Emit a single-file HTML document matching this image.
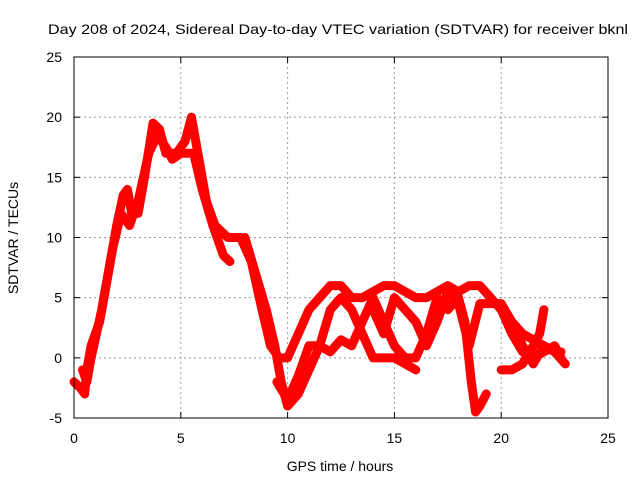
<!DOCTYPE html>
<html><head><meta charset="utf-8"><style>
body{margin:0;background:#fff;font-family:"Liberation Sans",sans-serif}
svg text{font-family:"Liberation Sans",sans-serif;font-size:14px;fill:#000}
</style></head><body>
<svg id="c" width="640" height="480">
<text x="338" y="34" text-anchor="middle" textLength="580" lengthAdjust="spacingAndGlyphs">Day 208 of 2024, Sidereal Day-to-day VTEC variation (SDTVAR) for receiver bknl</text>
<text x="340" y="471" text-anchor="middle">GPS time / hours</text>
<text transform="translate(18,238) rotate(-90)" text-anchor="middle">SDTVAR / TECUs</text>
<g id="grid"></g><g id="series"></g>
<rect x="74" y="57" width="534" height="361" fill="none" stroke="#000"/>
</svg>
<script>
const xTicks=[0,5,10,15,20,25];
const yTicks=[-5,0,5,10,15,20,25];
const traceAx=[0,0.3,0.5,0.6,0.8,1.2,1.6,2,2.3,2.5,2.7,3,3.3,3.7,4,4.3,4.8,5.2,5.5,5.8,6.2,6.6,7.2,7.8,8.3,8.8,9.2,9.6,10,10.5,11,11.5,12,12.5,13,13.5,14,14.5,15,15.5,16,16.5,17,17.5,18,18.5,19,19.5,20,20.5,21,21.5,22,22.5,22.8];
const traceAy=[-2,-2.5,-3,-1,1,3,7,11,13.5,14,12,12,15,19.5,19,17,17,18,20,17,13,11,10,10,8,4,1,0,0,2,4,5,6,6,5,5,5.5,6,6,5.5,5,5,5.5,6,5.5,6,6,5,4,2,0.5,0,0.5,1,0];
const traceBx=[0.4,0.6,0.8,1.3,1.8,2.2,2.6,3,3.5,3.9,4.3,4.6,5,5.6,6,6.5,7,7.3];
const traceBy=[-1,-2,0,4,9,12,11,13,17,18.5,17.5,16.5,17,17,14,11,8.5,8];
const traceCx=[8,8.5,9,9.4,9.7,10,10.5,11,11.5,12,12.5,13,13.5,14,14.5,15,15.5,16];
const traceCy=[10,7,4,1,-2,-4,-3,-1,1,4,5,4,2,0,0,0,-0.5,-1];
const traceDx=[9.5,10,10.5,11,11.5,12,12.5,13,13.5,14,14.5,15,15.5,16,16.5,17,17.5,18,18.3,18.6,18.8,19,19.3];
const traceDy=[-2,-3.5,-1.5,1,1,0.5,1.5,1,3,5,3,1,0,0,2,5,4,5,3,-2,-4.5,-4,-3];
const traceEx=[14,14.5,15,15.5,16,16.5,17,17.5,18,18.5,19,19.5,20,20.5,21,21.5,22,22.5,23];
const traceEy=[4,2,5,4,3,1,3,5.5,4.5,1,4.5,4.5,4.5,3,1,-0.5,1,0.5,-0.5];
const traceFx=[20,20.5,21,21.5,21.8,22];
const traceFy=[-1,-1,-0.5,1,2,4];
const traceGx=[20.5,21,21.5,22,22.5,22.8];
const traceGy=[3,2,1.5,1,0.5,0.5];
const X=v=>74+v*534/25, Y=v=>418-(v+5)*361/30;
const NS="http://www.w3.org/2000/svg";
const svg=document.getElementById('c'),grid=document.getElementById('grid'),ser=document.getElementById('series');
function mk(t,a,p){const e=document.createElementNS(NS,t);for(const k in a)e.setAttribute(k,a[k]);p.appendChild(e);return e;}
xTicks.forEach(v=>{
 if(v>0&&v<25){const l=mk('line',{x1:X(v),x2:X(v),y1:57,y2:418,stroke:'#999','stroke-dasharray':'2,3'},grid);
 
 }
 mk('line',{x1:X(v),x2:X(v),y1:418,y2:412,stroke:'#000'},grid);
 mk('line',{x1:X(v),x2:X(v),y1:57,y2:63,stroke:'#000'},grid);
 const t=mk('text',{x:X(v),y:443,'text-anchor':'middle'},svg);t.textContent=v;
 
 
});
yTicks.forEach(v=>{
 if(v>-5&&v<25){const l=mk('line',{x1:74,x2:608,y1:Y(v),y2:Y(v),stroke:'#999','stroke-dasharray':'2,3'},grid);
 
 }
 mk('line',{x1:74,x2:80,y1:Y(v),y2:Y(v),stroke:'#000'},grid);
 mk('line',{x1:608,x2:602,y1:Y(v),y2:Y(v),stroke:'#000'},grid);
 const t=mk('text',{x:62,y:Y(v)+5,'text-anchor':'end'},svg);t.textContent=v;
 
 
});
[[traceAx,traceAy],[traceBx,traceBy],[traceCx,traceCy],[traceDx,traceDy],[traceEx,traceEy],[traceFx,traceFy],[traceGx,traceGy]].forEach((s,i)=>{
 const pts=s[0].map((x,j)=>X(x)+','+Y(s[1][j])).join(' ');
 const p=mk('polyline',{points:pts,fill:'none',stroke:'#f00','stroke-width':9,'stroke-linejoin':'round','stroke-linecap':'round'},ser);
 
 
});
</script>
</body></html>
